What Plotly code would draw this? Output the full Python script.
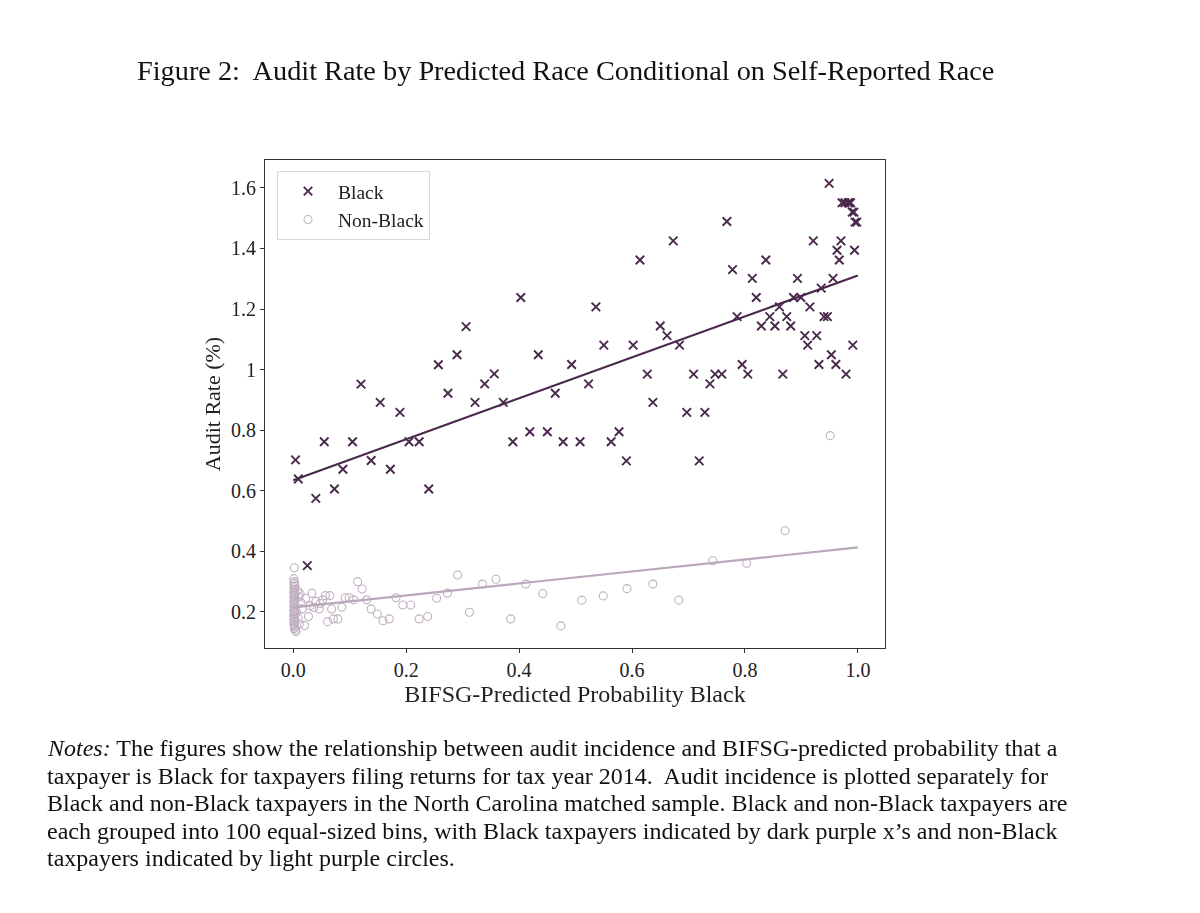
import plotly.graph_objects as go

# ---------------- data ----------------
black_x = [0.004, 0.009, 0.025, 0.040, 0.055, 0.073, 0.088, 0.105, 0.138, 0.172,
           0.189, 0.205, 0.223, 0.240, 0.120, 0.154, 0.257, 0.274, 0.290, 0.306,
           0.322, 0.339, 0.356, 0.372, 0.403, 0.434, 0.464, 0.493, 0.523, 0.536,
           0.550, 0.602, 0.614, 0.627, 0.637, 0.650, 0.662, 0.673, 0.684, 0.389,
           0.419, 0.450, 0.478, 0.508, 0.563, 0.577, 0.590, 0.697, 0.719, 0.729,
           0.709, 0.738, 0.747, 0.759, 0.768, 0.778, 0.786, 0.795, 0.805, 0.813,
           0.820, 0.829, 0.837, 0.844, 0.853, 0.861, 0.867, 0.874, 0.881, 0.886,
           0.893, 0.899, 0.906, 0.911, 0.915, 0.921, 0.927, 0.931, 0.935, 0.940,
           0.946, 0.949, 0.953, 0.956, 0.961, 0.963, 0.967, 0.970, 0.972, 0.977,
           0.979, 0.983, 0.987, 0.990, 0.993, 0.994, 0.995, 0.998, 0.991, 0.985]
black_y = [0.702, 0.639, 0.353, 0.575, 0.762, 0.606, 0.671, 0.762, 0.700, 0.671,
           0.859, 0.762, 0.762, 0.606, 0.952, 0.892, 1.016, 0.922, 1.049, 1.142,
           0.892, 0.953, 0.986, 0.892, 1.238, 1.049, 0.922, 1.017, 0.953, 1.207,
           1.081, 1.081, 1.362, 0.985, 0.892, 1.144, 1.112, 1.425, 1.081, 0.762,
           0.795, 0.795, 0.762, 0.762, 0.762, 0.795, 0.699, 0.859, 0.699, 0.859,
           0.985, 0.953, 0.985, 0.985, 1.489, 1.330, 1.175, 1.017, 0.985, 1.301,
           1.238, 1.144, 1.362, 1.175, 1.144, 1.207, 0.985, 1.175, 1.144, 1.238,
           1.301, 1.238, 1.112, 1.081, 1.207, 1.425, 1.112, 1.017, 1.269, 1.175,
           1.175, 1.615, 1.049, 1.301, 1.017, 1.394, 1.362, 1.425, 1.551, 1.551,
           0.985, 1.551, 1.551, 1.520, 1.520, 1.394, 1.487, 1.487, 1.081, 1.551]

nonblack_x = [0.002, 0.001, 0.002, 0.001, 0.003, 0.002, 0.001, 0.003, 0.002, 0.001,
              0.003, 0.002, 0.001, 0.002, 0.003, 0.001, 0.002, 0.003, 0.001, 0.002,
              0.003, 0.001, 0.002, 0.003, 0.001, 0.002, 0.003, 0.001, 0.002, 0.003,
              0.001, 0.002, 0.003, 0.002, 0.004, 0.005,
              0.008, 0.010, 0.012, 0.014, 0.016, 0.006, 0.009, 0.011, 0.020, 0.027,
              0.033, 0.030, 0.022,
              0.040, 0.048, 0.052, 0.036,
              0.046, 0.057, 0.065, 0.061, 0.068, 0.071, 0.079, 0.086, 0.092, 0.099,
              0.107, 0.114, 0.122, 0.130, 0.138, 0.149, 0.159, 0.170, 0.182, 0.194,
              0.208, 0.223, 0.238, 0.254, 0.273, 0.291, 0.312, 0.335, 0.359, 0.385,
              0.412, 0.442, 0.474, 0.511, 0.549, 0.591, 0.637, 0.683, 0.743, 0.803,
              0.871, 0.951]
nonblack_y = [0.346, 0.310, 0.300, 0.295, 0.290, 0.285, 0.280, 0.275, 0.270, 0.265,
              0.260, 0.255, 0.250, 0.245, 0.240, 0.235, 0.230, 0.225, 0.220, 0.215,
              0.210, 0.205, 0.200, 0.195, 0.190, 0.185, 0.180, 0.175, 0.170, 0.165,
              0.160, 0.155, 0.150, 0.145, 0.140, 0.135,
              0.270, 0.250, 0.260, 0.230, 0.210, 0.200, 0.180, 0.160, 0.155, 0.185,
              0.262, 0.220, 0.245,
              0.235, 0.228, 0.240, 0.215,
              0.210, 0.254, 0.254, 0.168, 0.210, 0.177, 0.177, 0.216, 0.247, 0.247,
              0.240, 0.300, 0.276, 0.240, 0.210, 0.193, 0.171, 0.177, 0.247, 0.223,
              0.223, 0.177, 0.185, 0.245, 0.262, 0.322, 0.199, 0.292, 0.308, 0.177,
              0.292, 0.261, 0.154, 0.239, 0.253, 0.277, 0.292, 0.239, 0.369, 0.361,
              0.468, 0.782]

# fitted lines (intercept, slope) over x in [0, 1]
fit_x = [0.0, 1.0]
black_fit = (0.635, 0.676)
nonblack_fit = (0.215, 0.198)

x_ticks = [0.0, 0.2, 0.4, 0.6, 0.8, 1.0]
x_tick_labels = ["0.0", "0.2", "0.4", "0.6", "0.8", "1.0"]
y_ticks = [0.2, 0.4, 0.6, 0.8, 1.0, 1.2, 1.4, 1.6]
y_tick_labels = ["0.2", "0.4", "0.6", "0.8", "1", "1.2", "1.4", "1.6"]

title_text = "Figure 2:  Audit Rate by Predicted Race Conditional on Self-Reported Race"
notes_lines = [
    "<i>Notes:</i> The figures show the relationship between audit incidence and BIFSG-predicted probability that a",
    "taxpayer is Black for taxpayers filing returns for tax year 2014.  Audit incidence is plotted separately for",
    "Black and non-Black taxpayers in the North Carolina matched sample. Black and non-Black taxpayers are",
    "each grouped into 100 equal-sized bins, with Black taxpayers indicated by dark purple x\u2019s and non-Black",
    "taxpayers indicated by light purple circles.",
]

# ---------------- styling ----------------
DARK = "#4a2a4c"
LIGHT = "#b4a2b6"
LIGHT_LINE = "#b9a8ba"
FONT = "Liberation Serif"

fig = go.Figure()

fig.add_trace(go.Scatter(
    x=black_x, y=black_y, mode="markers", name="Black",
    marker=dict(symbol="x-thin-open", size=8.5, line=dict(color=DARK, width=1.9), color=DARK),
))
fig.add_trace(go.Scatter(
    x=nonblack_x, y=nonblack_y, mode="markers", name="Non-Black",
    marker=dict(symbol="circle-open", size=8, line=dict(color=LIGHT, width=1.1), color=LIGHT),
    opacity=0.85,
))
fig.add_trace(go.Scatter(
    x=fit_x, y=[black_fit[0] + black_fit[1] * v for v in fit_x], mode="lines",
    line=dict(color=DARK, width=2.2), showlegend=False, hoverinfo="skip",
))
fig.add_trace(go.Scatter(
    x=fit_x, y=[nonblack_fit[0] + nonblack_fit[1] * v for v in fit_x], mode="lines",
    line=dict(color=LIGHT_LINE, width=2.2), showlegend=False, hoverinfo="skip",
))

# page body has an 8px margin, so the figure origin sits at (8, 8) on screen
OFF = 8
L, R, T, B = 265 - OFF, 885 - OFF, 160 - OFF, 648 - OFF
W, H = 1200, 913
pw, ph = R - L, B - T

def px_x(p):
    return (p - OFF - L) / pw

def px_y(p):
    return (B - (p - OFF)) / ph

annotations = [dict(
    text=title_text, xref="paper", yref="paper", x=px_x(565), y=px_y(70),
    xanchor="center", yanchor="middle", showarrow=False,
    font=dict(family=FONT, size=28.3, color="#111"),
)]
line_ys = [748, 776, 803, 831, 858]
for txt, yy in zip(notes_lines, line_ys):
    annotations.append(dict(
        text=txt, xref="paper", yref="paper", x=px_x(45), y=px_y(yy),
        xanchor="left", yanchor="middle", showarrow=False, align="left",
        font=dict(family=FONT, size=24, color="#111"),
    ))

axis_common = dict(
    showgrid=False, zeroline=False, showline=True, mirror=True,
    linecolor="#333", linewidth=1.2, ticks="outside", ticklen=4,
    tickcolor="#333", tickfont=dict(family=FONT, size=20, color="#222"),
)

fig.update_layout(
    width=W, height=H,
    margin=dict(l=L, r=W - R, t=T, b=H - B),
    paper_bgcolor="white", plot_bgcolor="white",
    font=dict(family=FONT, color="#222"),
    xaxis=dict(range=[-0.05, 1.048], tickvals=x_ticks, ticktext=x_tick_labels,
               title=dict(text="BIFSG-Predicted Probability Black",
                          font=dict(family=FONT, size=24, color="#222"), standoff=0),
               **axis_common),
    yaxis=dict(range=[0.081, 1.692], tickvals=y_ticks, ticktext=y_tick_labels,
               title=dict(text="Audit Rate (%)",
                          font=dict(family=FONT, size=22, color="#222"), standoff=4),
               **axis_common),
    legend=dict(x=px_x(277), y=px_y(171), xanchor="left", yanchor="top",
                bordercolor="#d8d8d8", borderwidth=1, bgcolor="rgba(255,255,255,0.9)",
                font=dict(family=FONT, size=19.5, color="#222"),
                itemwidth=50, tracegroupgap=0),
    annotations=annotations,
    showlegend=True,
)

fig.write_html("out.html")
